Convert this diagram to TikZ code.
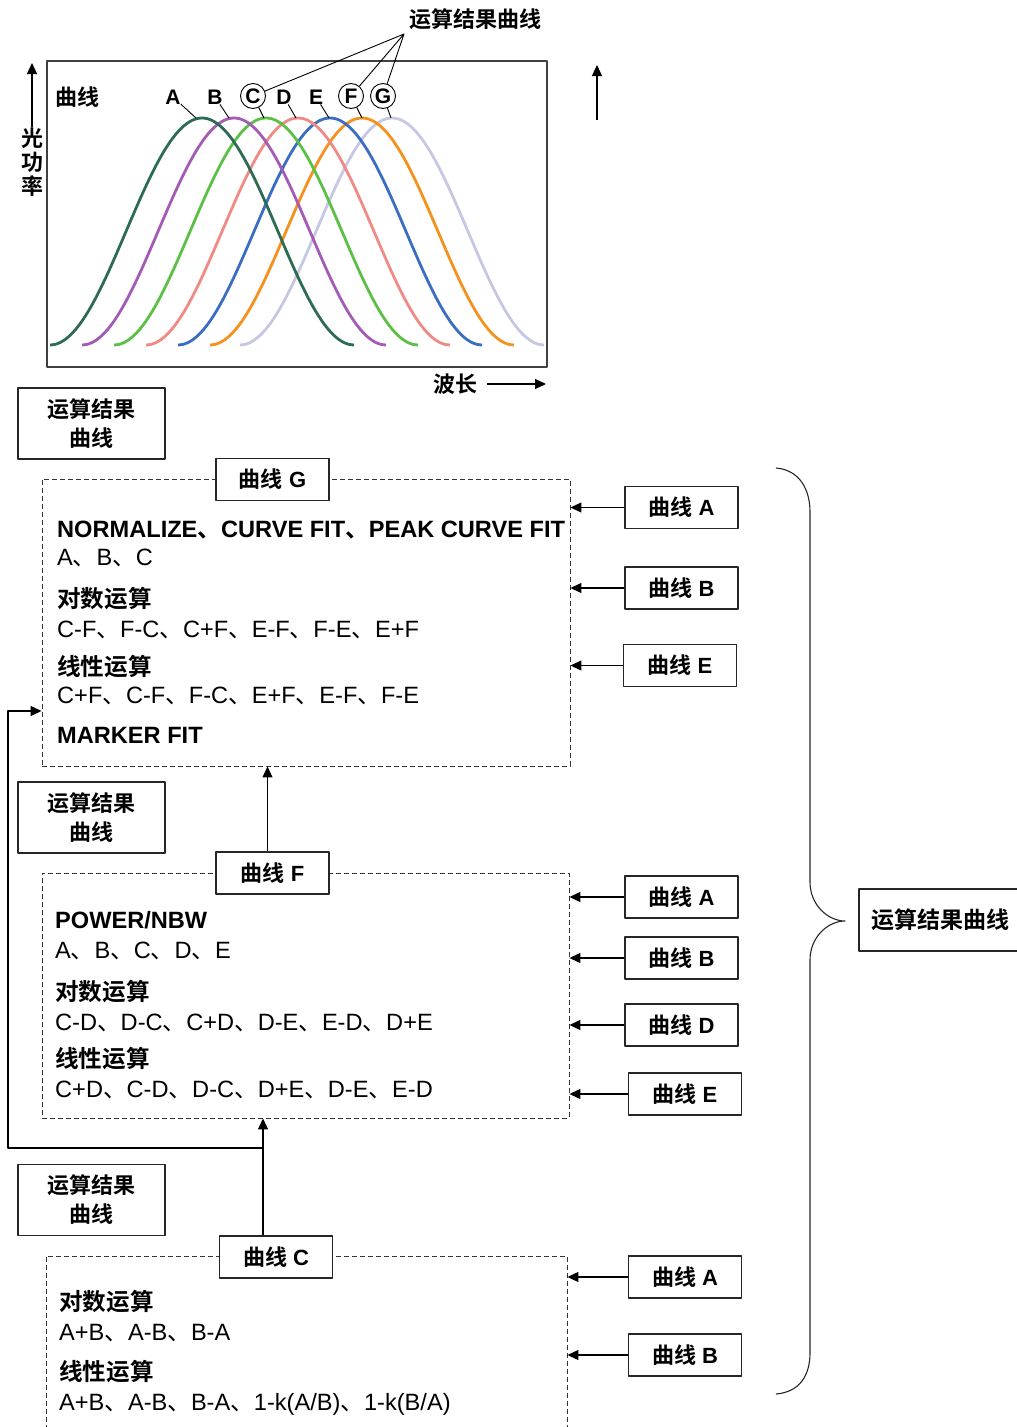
\documentclass[tikz,border=0pt]{standalone}
\usepackage{fontspec}
\setmainfont{Liberation Sans}
\newfontfamily\cjk[BoldFont={Noto Sans CJK SC Bold}]{Noto Sans CJK SC}
\usetikzlibrary{arrows.meta}
\newcommand\zh[1]{{\cjk #1}}
\newcommand\dun{\zh{、}}
\newcommand\fsz[1]{\fontsize{#1}{#1}\selectfont}
\definecolor{cA}{HTML}{2E6B55}
\definecolor{cB}{HTML}{A35BB5}
\definecolor{cC}{HTML}{5CBF46}
\definecolor{cD}{HTML}{F08A84}
\definecolor{cE}{HTML}{3B6EC2}
\definecolor{cF}{HTML}{F5921E}
\definecolor{cG}{HTML}{C6C8E3}
\begin{document}
\begin{tikzpicture}[x=1pt, y=-1pt, line join=round, >={Triangle[length=11pt,width=10pt]},
  box/.style={draw=black!85, line width=1.3pt, fill=white, inner sep=0pt, font=\bfseries\fsz{22}},
  resbox/.style={box, minimum width=147pt, minimum height=71pt, align=center, font=\bfseries\fontsize{22}{29}\selectfont},
  curvebox/.style={box, minimum width=113pt, minimum height=42pt},
  opframe/.style={draw=black!80, dash pattern=on 5pt off 3pt, line width=0.9pt, inner sep=0pt},
  opbold/.style={anchor=base west, inner sep=0pt, font=\bfseries\fsz{23.6}},
  optext/.style={anchor=base west, inner sep=0pt, font=\fsz{23.6}},
  lbl/.style={inner sep=0pt, font=\bfseries\fsz{21}},
  circlbl/.style={circle, draw, line width=0.9pt, inner sep=0pt, minimum size=25pt, font=\bfseries\fsz{21}}]
\useasboundingbox (0,0) rectangle (1017,1427);

% spectrum chart
\draw[line width=1.3pt, black!75] (47,61) rectangle (547,367);
\foreach \m/\c in {392/cG,362/cF,330/cE,298/cD,266/cC,234/cB,202/cA}
  \draw[\c, line width=2.8pt, smooth, samples=61, domain=-152:152]
    plot ({\m+\x},{345-227*(0.5+0.5*cos((\x/152)*180))});
\node[lbl, font=\bfseries\fsz{22}] (curv) at (77,97) {\zh{曲线}};
\node[lbl] (lbA) at (173,97) {A};
\node[lbl] (lbB) at (215,97) {B};
\node[circlbl] (lbC) at (253,96) {C};
\node[lbl] (lbD) at (284,97) {D};
\node[lbl] (lbE) at (316,97) {E};
\node[circlbl] (lbF) at (351,96) {F};
\node[circlbl] (lbG) at (383,96) {G};
\foreach \n/\p in {A/196,B/229,C/264,D/296,E/329,F/362,G/391}
  \draw[line width=0.9pt] (lb\n) -- (\p,118);
\node[lbl, font=\bfseries\fsz{22}] (title) at (475,19) {\zh{运算结果曲线}};
\coordinate (fork) at (404,34);
\draw[line width=0.9pt] (lbC) -- (fork) -- (lbF) (fork) -- (lbG);
\node[lbl, align=center, font=\bfseries\fontsize{22}{24}\selectfont] (power) at (32,162) {\zh{光}\\\zh{功}\\\zh{率}};
\coordinate (yup) at (32,63);
\draw[->, line width=1.1pt] (power.north) -- (yup);
\draw[->, line width=1.1pt] (597,120) -- (597,65);
\node[lbl, font=\bfseries\fsz{22}] (wl) at (455,384) {\zh{波长}};
\coordinate (wlend) at (546,384);
\draw[->, line width=1.1pt] ([xshift=10pt]wl.east) -- (wlend);

% curve G frame
\node[resbox] (resG) at (91.5,423.5) {\zh{运算结果}\\\zh{曲线}};
\node[opframe, minimum width=528pt, minimum height=287pt] (frameG) at (306,622.5) {};
\node[curvebox] (hdG) at (272.5,479.5) {\zh{曲线} G};
\node[opbold] (gFit) at (57,537) {NORMALIZE\dun CURVE FIT\dun PEAK CURVE FIT};
\node[optext] (gFitArg) at (57,565) {A\dun B\dun C};
\node[opbold] (gLog) at (57,607) {\zh{对数运算}};
\node[optext] (gLogArg) at (57,637) {C-F\dun F-C\dun C+F\dun E-F\dun F-E\dun E+F};
\node[opbold] (gLin) at (57,675) {\zh{线性运算}};
\node[optext] (gLinArg) at (57,703) {C+F\dun C-F\dun F-C\dun E+F\dun E-F\dun F-E};
\node[opbold] (gMark) at (57,743) {MARKER FIT};
\node[curvebox] (gA) at (681.5,507.5) {\zh{曲线} A};
\node[curvebox] (gB) at (681.5,588) {\zh{曲线} B};
\node[curvebox] (gE) at (680,665.5) {\zh{曲线} E};
\foreach \n in {gA,gB,gE}
  \draw[->, line width=1.1pt] (\n) -- (\n -| frameG.east);

% curve F frame
\node[resbox] (resF) at (91.5,817.5) {\zh{运算结果}\\\zh{曲线}};
\node[opframe, minimum width=527pt, minimum height=245pt] (frameF) at (305.5,995.5) {};
\node[curvebox] (hdF) at (272.5,873) {\zh{曲线} F};
\node[opbold] (fPow) at (55,928) {POWER/NBW};
\node[optext] (fPowArg) at (55,958) {A\dun B\dun C\dun D\dun E};
\node[opbold] (fLog) at (55,1000) {\zh{对数运算}};
\node[optext] (fLogArg) at (55,1030) {C-D\dun D-C\dun C+D\dun D-E\dun E-D\dun D+E};
\node[opbold] (fLin) at (55,1067) {\zh{线性运算}};
\node[optext] (fLinArg) at (55,1097) {C+D\dun C-D\dun D-C\dun D+E\dun D-E\dun E-D};
\node[curvebox] (fA) at (681.5,897) {\zh{曲线} A};
\node[curvebox] (fB) at (681.5,958) {\zh{曲线} B};
\node[curvebox] (fD) at (681.5,1025) {\zh{曲线} D};
\node[curvebox] (fE) at (685,1094) {\zh{曲线} E};
\foreach \n in {fA,fB,fD,fE}
  \draw[->, line width=1.1pt] (\n) -- (\n -| frameF.east);
\draw[->, line width=1.1pt] ([xshift=-5pt]hdF.north) -- ([xshift=-5pt]hdF.north |- frameG.south);

% curve C frame
\node[resbox] (resC) at (91.5,1200) {\zh{运算结果}\\\zh{曲线}};
\node[opframe, minimum width=521pt, minimum height=189pt] (frameC) at (306.5,1350.5) {};
\node[curvebox] (hdC) at (276,1257) {\zh{曲线} C};
\node[opbold] (cLog) at (59,1310) {\zh{对数运算}};
\node[optext] (cLogArg) at (59,1340) {A+B\dun A-B\dun B-A};
\node[opbold] (cLin) at (59,1380) {\zh{线性运算}};
\node[optext] (cLinArg) at (59,1410) {A+B\dun A-B\dun B-A\dun 1-k(A/B)\dun 1-k(B/A)};
\node[curvebox] (cA) at (685,1277) {\zh{曲线} A};
\node[curvebox] (cB) at (685,1355) {\zh{曲线} B};
\foreach \n in {cA,cB}
  \draw[->, line width=1.1pt] (\n) -- (\n -| frameC.east);
\draw[->, line width=1.1pt] ([xshift=-13pt]hdC.north) -- ([xshift=-13pt]hdC.north |- frameF.south);
\coordinate (split) at (263,1148);
\coordinate (loop) at (8,711);
\draw[->, line width=1.1pt] (split) -| (loop) -- (loop -| frameG.west);

% brace and sum
\draw[line width=1.1pt, black!85] (776,468) .. controls (800,470) and (810,490) .. (810,512) -- (810,882)
  .. controls (810,905) and (828,921) .. (845,921) .. controls (828,921) and (810,937) .. (810,960)
  -- (810,1353) .. controls (810,1375) and (800,1392) .. (776,1394);
\node[box, font=\bfseries\fsz{23}, minimum width=163pt, minimum height=62pt] (sum) at (940.5,920) {\zh{运算结果曲线}};
\end{tikzpicture}
\end{document}
